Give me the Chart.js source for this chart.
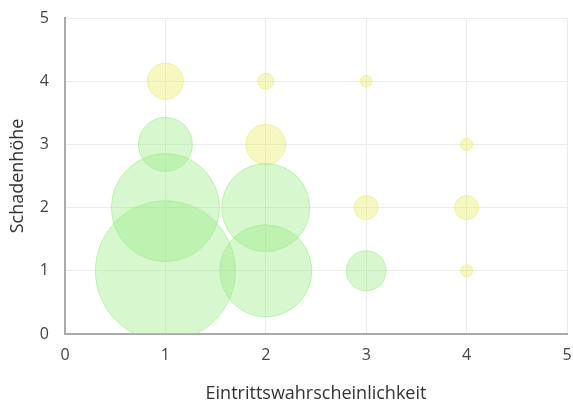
<!DOCTYPE html>
<html>
<head>
<meta charset="utf-8">
<script src="https://cdn.jsdelivr.net/npm/chart.js@4"></script>
<style>
html,body{margin:0;padding:0;background:#fff;}
#wrap{width:573px;height:407px;}
</style>
</head>
<body>
<div id="wrap"><canvas id="c" width="573" height="407"></canvas></div>
<script>
// Green (high frequency) bubbles
const greenX = [1, 1, 1, 2, 2, 3];
const greenY = [1, 2, 3, 1, 2, 1];
const greenR = [70, 54, 27, 46, 44, 20];
// Yellow bubbles
const yellowX = [1, 2, 2, 3, 3, 4, 4, 4];
const yellowY = [4, 4, 3, 4, 2, 3, 2, 1];
const yellowR = [18, 8, 20, 6, 12, 6, 12, 6];
const xTicks = [0, 1, 2, 3, 4, 5];
const yTicks = [0, 1, 2, 3, 4, 5];
const xTitle = 'Eintrittswahrscheinlichkeit';
const yTitle = 'Schadenhöhe';

const toPts = (xs, ys, rs) => xs.map((x, i) => ({x: x, y: ys[i], r: rs[i]}));

new Chart(document.getElementById('c'), {
  type: 'bubble',
  data: {
    datasets: [
      {
        label: 'grün',
        data: toPts(greenX, greenY, greenR),
        backgroundColor: 'rgba(150,235,130,0.38)',
        borderColor: 'rgba(150,235,130,0.55)',
        borderWidth: 1
      },
      {
        label: 'gelb',
        data: toPts(yellowX, yellowY, yellowR),
        backgroundColor: 'rgba(235,235,110,0.42)',
        borderColor: 'rgba(235,235,110,0.6)',
        borderWidth: 1
      }
    ]
  },
  options: {
    responsive: false,
    animation: false,
    layout: {autoPadding: false, padding: {top: 18, right: 6, left: 0, bottom: 0}},
    plugins: {legend: {display: false}, tooltip: {enabled: false}},
    scales: {
      x: {
        type: 'linear', min: 0, max: 5,
        afterBuildTicks: (s) => { s.ticks = xTicks.map(v => ({value: v})); },
        afterFit: (s) => { s.height = 73; s.paddingLeft = 0; s.paddingRight = 0; },
        grid: {color: '#ebebeb', drawTicks: false},
        border: {color: '#aaaaaa', width: 2},
        ticks: {padding: 12, color: '#444', font: {family: 'Open Sans', size: 16}},
        title: {display: true, text: xTitle, color: '#333', font: {family: 'Open Sans', size: 18}, padding: {top: 18, bottom: 2}}
      },
      y: {
        type: 'linear', min: 0, max: 5,
        afterBuildTicks: (s) => { s.ticks = yTicks.map(v => ({value: v})); },
        afterFit: (s) => { s.width = 65; s.paddingTop = 0; s.paddingBottom = 0; },
        grid: {color: '#ebebeb', drawTicks: false},
        border: {color: '#aaaaaa', width: 2},
        ticks: {padding: 16, color: '#444', font: {family: 'Open Sans', size: 16}},
        title: {display: true, text: yTitle, color: '#333', font: {family: 'Open Sans', size: 18}, padding: {top: 7, bottom: 12}}
      }
    }
  }
});
</script>
</body>
</html>
